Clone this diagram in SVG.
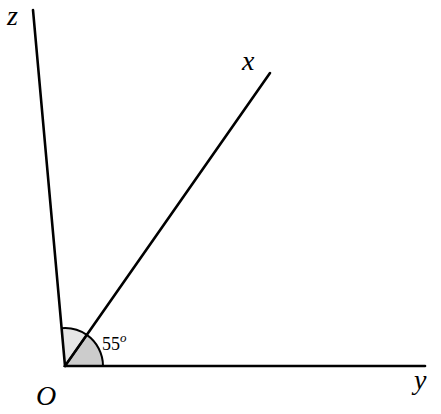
<svg xmlns="http://www.w3.org/2000/svg" width="441" height="414" viewBox="0 0 441 414">
<style>
.ln{stroke:#000;stroke-width:2.6;fill:none;stroke-linecap:round}
.arc{stroke:#000;stroke-width:2;}
.lbl{font-family:"Liberation Serif","DejaVu Serif",serif;font-style:italic;font-size:28px;fill:#000}
.num{font-family:"Liberation Serif","DejaVu Serif",serif;font-size:18px;fill:#000}
</style>
<rect width="441" height="414" fill="#fff"/>
<g id="angles">
<path d="M65,366 L86.8,334.9 A38,38 0 0 0 61.6,328.2 Z" fill="#e6e6e6" stroke="none"/>
<path d="M86.8,334.9 A38,38 0 0 0 61.6,328.2" class="arc" fill="none"/>
<path d="M65,366 L103,366 A38,38 0 0 0 86.8,334.9 Z" fill="#cccccc" class="arc"/>
</g>
<g id="connectors">
<line class="ln" x1="65" y1="366" x2="33" y2="10"/>
<line class="ln" x1="65" y1="366" x2="270" y2="73"/>
<line class="ln" x1="65" y1="366" x2="425" y2="366"/>
</g>
<g id="labels">
<text class="lbl" x="7" y="25">z</text>
<text class="lbl" x="242" y="70">x</text>
<text class="lbl" x="414" y="389">y</text>
<text class="lbl" x="36" y="405">O</text>
<text class="num" x="102" y="350">55<tspan font-style="italic" font-size="13" dy="-8">o</tspan></text>
</g>
</svg>
